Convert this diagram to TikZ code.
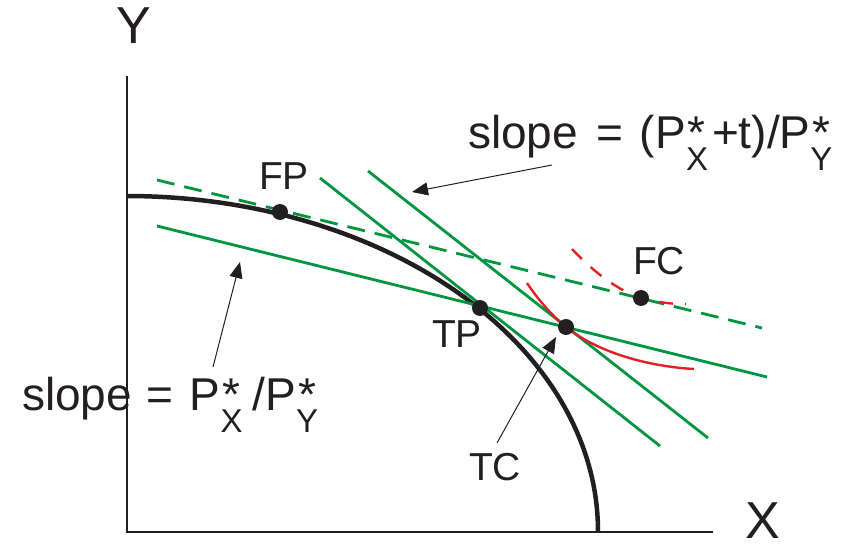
\documentclass[tikz,border=0pt]{standalone}
\usepackage{fontspec}
\setmainfont{Liberation Sans}
\usetikzlibrary{arrows.meta}
\definecolor{grn}{RGB}{0,150,64}
\definecolor{rd}{RGB}{228,30,38}
\definecolor{ink}{RGB}{35,31,32}
\newcommand\pstarsub[1]{P\rlap{\hspace{2pt}*}\raisebox{-22pt}{\fontsize{33}{33}\selectfont #1}}
\tikzset{
  frontier/.style={line width=4.5pt, draw=ink},
  gline/.style={line width=2.8pt, draw=grn},
  gdash/.style={gline, dash pattern=on 18pt off 10pt},
  rline/.style={line width=2.4pt, draw=rd},
  rdash/.style={rline, dash pattern=on 14pt off 12pt},
  dotnode/.style={circle, fill=ink, minimum size=16pt, inner sep=0pt},
  lbl/.style={font=\fontsize{39}{39}\selectfont, text=ink, inner sep=0pt},
  biglbl/.style={font=\fontsize{52}{52}\selectfont, text=ink, inner sep=0pt},
  slopelbl/.style={font=\fontsize{46}{46}\selectfont, text=ink, inner sep=0pt, anchor=base west},
  ptr/.style={draw=ink, line width=1pt, -{Triangle[length=16pt,width=13pt]}},
  axisline/.style={draw=ink, line width=1.6pt}
}
\begin{document}
\begin{tikzpicture}[x=1pt,y=-1pt]
\useasboundingbox (0,0) rectangle (852,545);
% slope labels
\node[slopelbl] (slopetop) at (468,149) {slope\hspace{18pt}=\hspace{17pt}(\pstarsub{X}\hspace{4pt}+t)/\pstarsub{Y}};
\node[slopelbl] (slopebot) at (22,410) {slope\hspace{14pt}=\hspace{17pt}\pstarsub{X}\hspace{10pt}/\pstarsub{Y}};
% axes
\coordinate (ytop) at (127,76);
\coordinate (orig) at (127,532);
\coordinate (xend) at (713,532);
\draw[axisline] (ytop) -- (orig) -- (xend);
\node[biglbl] (Ylab) at (134,26) {Y};
\node[biglbl] (Xlab) at (763,521) {X};
% frontier
\draw[frontier] plot[domain=90:0, samples=80] ({127+471*cos(\x)},{531-335*sin(\x)});
% green lines
\draw[gline] (157,226) -- (767,377);
\draw[gline] (320,178) -- (660,446);
\draw[gline] (368,171) -- (708,438);
\draw[gdash] (157,180) -- (762,328);
% red indifference curves
\draw[rline] (527,283) .. controls (537,298) and (552,316) .. (566,327)
  .. controls (601,355) and (655,367) .. (694,369);
\draw[rdash] (572,249) .. controls (590,268) and (615,290) .. (642,298)
  .. controls (660,303) and (672,304) .. (686,304);
% points
\node[dotnode] (FPd) at (280,212) {};
\node[dotnode] (TPd) at (480,308) {};
\node[dotnode] (TCd) at (566,327) {};
\node[dotnode] (FCd) at (641,298) {};
% labels
\node[lbl] (FPl) at (284,176) {FP};
\node[lbl] (TPl) at (457,334) {TP};
\node[lbl] (TCl) at (495,467) {TC};
\node[lbl] (FCl) at (659,261) {FC};
% arrows
\coordinate (a1s) at (552,165); \coordinate (a1t) at (412,192);
\coordinate (a2s) at (213,367); \coordinate (a2t) at (240,262);
\coordinate (a3s) at (497,443); \coordinate (a3t) at (556,337);
\draw[ptr] (a1s) -- (a1t);
\draw[ptr] (a2s) -- (a2t);
\draw[ptr] (a3s) -- (a3t);
\end{tikzpicture}
\end{document}
